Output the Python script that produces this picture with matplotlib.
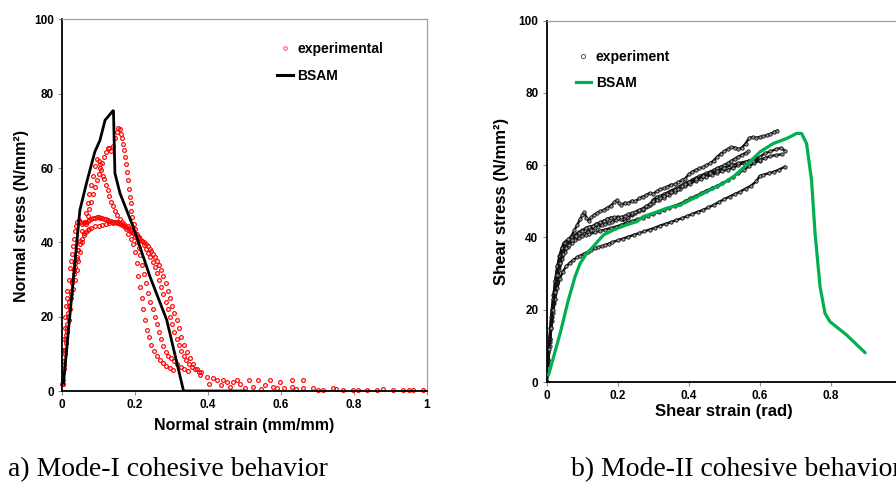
import matplotlib
matplotlib.use("Agg")
import matplotlib.pyplot as plt
from matplotlib.lines import Line2D

plt.rcParams['font.family'] = ['Liberation Sans', 'DejaVu Sans']
plt.rcParams['font.weight'] = 'bold'

# ---------------- Data: Mode-I (left) ----------------
bsam1_x = [0.004, 0.049, 0.068, 0.090, 0.104, 0.118, 0.141, 0.145, 0.159, 0.195, 0.241, 0.287, 0.333, 0.5]
bsam1_y = [2.1, 48.7, 56.3, 64.4, 67.5, 72.9, 75.6, 58.6, 53.2, 44.2, 30.8, 19.1, 0.0, 0.0]

expA_x = [0.001, 0.002, 0.003, 0.004, 0.005, 0.007, 0.009, 0.011, 0.013, 0.015, 0.018, 0.021, 0.024,
          0.027, 0.030, 0.033, 0.036, 0.039, 0.042, 0.046, 0.050, 0.055, 0.060, 0.065, 0.070, 0.075,
          0.080, 0.085, 0.090, 0.095, 0.100, 0.105, 0.110, 0.115, 0.120, 0.125, 0.130, 0.135, 0.140,
          0.145, 0.150, 0.155, 0.160, 0.165, 0.170, 0.175, 0.180, 0.185, 0.190, 0.195, 0.200, 0.205,
          0.210, 0.215, 0.220, 0.225, 0.230, 0.235, 0.240, 0.245, 0.250, 0.255, 0.260, 0.266, 0.272,
          0.278, 0.284, 0.290, 0.296, 0.302, 0.308, 0.314, 0.320, 0.327, 0.334, 0.342, 0.350, 0.360,
          0.370, 0.380]
expA_y = [2, 5, 8, 11, 14, 17, 20, 23, 25, 27, 30, 33, 35, 37, 39, 41, 43, 44.5, 45.5, 46, 45.5, 45,
          45.2, 45.5, 45.8, 46, 46.2, 46.5, 46.7, 46.8, 46.8, 46.7, 46.5, 46.3, 46.2, 46, 45.8, 45.7,
          45.6, 45.5, 45.4, 45.2, 45, 44.8, 44.5, 44.2, 43.8, 43.4, 43, 42.6, 42.2, 41.8, 41.4, 41,
          40.5, 40, 39.5, 39, 38.3, 37.6, 36.8, 36, 35, 33.8, 32.5, 31, 29, 27, 25, 23, 21, 19, 17,
          14.5, 12.5, 10.5, 8.8, 7.2, 6, 5]

expD_x = [0.002, 0.005, 0.008, 0.011, 0.014, 0.017, 0.020, 0.024, 0.028, 0.032, 0.036, 0.040, 0.045,
          0.050, 0.055, 0.060, 0.065, 0.070, 0.075, 0.080, 0.090, 0.100, 0.110, 0.120, 0.130, 0.140,
          0.150, 0.160, 0.170, 0.180, 0.190, 0.195, 0.200, 0.205, 0.210, 0.215, 0.220, 0.225, 0.230,
          0.236, 0.242, 0.248, 0.254, 0.260, 0.266, 0.272, 0.278, 0.284, 0.290, 0.298, 0.306, 0.315,
          0.325, 0.335, 0.345]
expD_y = [3, 7, 11, 15, 18, 21, 24, 27, 30, 32.5, 34.5, 36, 38, 39.5, 41, 42, 42.8, 43.3, 43.6, 44,
          44.3, 44.5, 44.8, 45, 45.2, 45.3, 45.3, 45.2, 45, 44.5, 43.5, 42.5, 41.5, 40, 38.5, 36.5,
          34, 31.5, 29, 26.5, 24, 22, 20, 18, 16, 14, 12, 10.5, 9.5, 8.8, 8, 7.2, 6.5, 6, 5.5]

expB_x = [0.002, 0.004, 0.006, 0.008, 0.011, 0.014, 0.017, 0.020, 0.024, 0.028, 0.032, 0.036, 0.040,
          0.045, 0.050, 0.055, 0.060, 0.065, 0.070, 0.075, 0.080, 0.085, 0.090, 0.095, 0.100, 0.104,
          0.108, 0.112, 0.116, 0.120, 0.125, 0.130, 0.135, 0.140, 0.146, 0.152, 0.158, 0.164, 0.170,
          0.176, 0.182, 0.188, 0.194, 0.200, 0.205, 0.209, 0.213, 0.218, 0.223, 0.227, 0.232, 0.238,
          0.245, 0.252, 0.260, 0.268, 0.276, 0.285, 0.295, 0.305]
expB_y = [2, 5, 8, 11, 14, 17, 20, 23, 26, 29, 31.5, 33.5, 35.5, 38, 40.5, 43, 45.5, 48, 50.5, 53,
          55.5, 58, 60.5, 62.5, 62, 61, 59.5, 58, 57, 55.5, 54, 52.5, 51, 49.8, 48.5, 47.3, 46.3,
          45.5, 44.5, 43.5, 42.3, 41, 39.5, 37.5, 34.5, 31, 28, 25, 22, 19, 16.5, 14.5, 12.5, 10.8,
          9.5, 8.3, 7.5, 6.8, 6.2, 5.7]

expC_x = [0.002, 0.005, 0.008, 0.011, 0.014, 0.018, 0.022, 0.026, 0.030, 0.035, 0.040, 0.045, 0.050,
          0.055, 0.060, 0.065, 0.070, 0.075, 0.080, 0.085, 0.090, 0.095, 0.100, 0.105, 0.110, 0.115,
          0.120, 0.125, 0.130, 0.135, 0.140, 0.145, 0.150, 0.154, 0.158, 0.161, 0.165, 0.168, 0.171,
          0.173, 0.176, 0.179, 0.182, 0.184, 0.186, 0.188, 0.190, 0.192, 0.196, 0.200, 0.206, 0.212,
          0.218, 0.224, 0.230, 0.236, 0.242, 0.248, 0.254, 0.260, 0.266, 0.272, 0.278, 0.284, 0.290,
          0.296, 0.302, 0.308, 0.314, 0.320, 0.326, 0.333, 0.340, 0.348, 0.356, 0.365, 0.375]
expC_y = [2, 6, 10, 13, 16, 19, 22, 25, 27.5, 30, 32.5, 35, 37.5, 40, 42.5, 45, 47, 49, 51, 53, 55,
          56.8, 58.5, 60, 61.5, 63, 64.2, 65.3, 65.5, 64.5, 66, 68, 69.8, 70.7, 70.5, 69.3, 68, 66.6,
          64.8, 63, 61, 59, 56.8, 54.5, 52.3, 50.5, 48.5, 46.8, 45, 43.5, 42.3, 41.2, 40.3, 39.3,
          38.3, 37.2, 36, 34.7, 33.3, 31.8, 30, 28, 26, 24, 22, 20, 18, 16, 14, 12.3, 10.8, 9.5, 8.3,
          7.3, 6.5, 5.8, 5.2]

tail_x = [0.378, 0.396, 0.415, 0.424, 0.442, 0.451, 0.469, 0.479, 0.488, 0.511, 0.524, 0.538, 0.556,
          0.570, 0.579, 0.597, 0.607, 0.629, 0.629, 0.661, 0.661, 0.689, 0.716, 0.743, 0.771, 0.798,
          0.835, 0.862, 0.908, 0.935, 0.963, 0.990, 0.402, 0.435, 0.460, 0.500, 0.545, 0.590, 0.640,
          0.700, 0.750, 0.810, 0.880, 0.950]
tail_y = [4.3, 3.9, 3.4, 3.0, 3.0, 2.5, 2.5, 3.0, 2.0, 3.0, 1.2, 3.0, 1.6, 3.0, 1.2, 2.5, 0.7, 3.0,
          1.0, 3.0, 0.7, 0.7, 0.4, 0.7, 0.3, 0.4, 0.3, 0.4, 0.4, 0.3, 0.4, 0.3, 1.8, 1.5, 1.2, 0.8,
          0.6, 0.9, 0.5, 0.4, 0.6, 0.3, 0.5, 0.2]

# ---------------- Data: Mode-II (right) ----------------
bsam2_x = [0.005, 0.038, 0.061, 0.080, 0.094, 0.113, 0.131, 0.160, 0.188, 0.225, 0.254, 0.272, 0.300,
           0.338, 0.376, 0.413, 0.451, 0.488, 0.526, 0.563, 0.601, 0.638, 0.676, 0.704, 0.718, 0.732,
           0.746, 0.756, 0.770, 0.784, 0.798, 0.845, 0.897]
bsam2_y = [1.9, 13.5, 22.7, 29.2, 32.8, 35.6, 37.5, 40.7, 42.1, 43.5, 44.4, 45.8, 46.7, 48.1, 49.0,
           50.8, 52.7, 54.5, 56.8, 60.1, 63.7, 66.0, 67.4, 68.8, 68.8, 66.0, 55.9, 41.1, 26.4, 19.0,
           16.7, 13.0, 8.1]

e1_x = [0, 0.003, 0.006, 0.010, 0.014, 0.019, 0.024, 0.030, 0.036, 0.042, 0.048, 0.055, 0.062, 0.070,
        0.078, 0.086, 0.094, 0.100, 0.106, 0.112, 0.118, 0.126, 0.134, 0.142, 0.150, 0.160, 0.170,
        0.180, 0.190, 0.197, 0.203, 0.210, 0.220, 0.230, 0.240, 0.250, 0.260, 0.270, 0.280, 0.290,
        0.300, 0.310, 0.320, 0.330, 0.340, 0.350, 0.360, 0.370, 0.380, 0.390, 0.400, 0.410, 0.420,
        0.430, 0.440, 0.450, 0.460, 0.470, 0.480, 0.490, 0.500, 0.510, 0.520, 0.530, 0.540, 0.550,
        0.560, 0.570, 0.580, 0.590, 0.600, 0.610, 0.620, 0.630, 0.640, 0.650]
e1_y = [0, 5, 10, 15, 20, 24, 28, 32, 35, 37, 38.5, 39, 39.5, 40.5, 42, 43.5, 45, 46.2, 47, 45.5,
        44.6, 45.6, 46.3, 46.8, 47.2, 47.6, 48.2, 48.8, 49.7, 50.3, 49.5, 49, 49.6, 49.5, 50.2, 50,
        50.8, 51.3, 51.7, 52.3, 52.1, 52.8, 53.3, 53.6, 54.1, 54.6, 54.7, 55.3, 55.8, 56.3, 57.5,
        58.2, 58.7, 59.1, 59.5, 60, 60.5, 61.3, 62.3, 63.2, 63.8, 64.5, 65, 64.9, 64.4, 64.9, 66,
        67.5, 67.8, 67.6, 67.8, 68, 68.3, 68.6, 69.2, 69.6]

e2_x = [0, 0.004, 0.008, 0.013, 0.018, 0.024, 0.030, 0.037, 0.044, 0.052, 0.060, 0.070, 0.080, 0.090,
        0.100, 0.110, 0.120, 0.130, 0.140, 0.150, 0.160, 0.170, 0.180, 0.190, 0.200, 0.210, 0.220,
        0.230, 0.240, 0.250, 0.260, 0.270, 0.280, 0.290, 0.300, 0.310, 0.320, 0.330, 0.340, 0.350,
        0.360, 0.370, 0.380, 0.390, 0.400, 0.410, 0.420, 0.430, 0.440, 0.450, 0.460, 0.470, 0.480,
        0.490, 0.500, 0.510, 0.520, 0.530, 0.540, 0.550, 0.560, 0.568]
e2_y = [0, 6, 12, 18, 23, 28, 32, 35, 37, 38.5, 39.5, 40, 40.8, 41.5, 42, 42.5, 42.2, 43, 43.8, 44,
        44.5, 45, 45.5, 45.3, 45.8, 45, 44.5, 45.5, 46.2, 46.7, 47.4, 47.7, 48.3, 49, 50.5, 51.2,
        51.5, 52, 52.4, 53, 53.4, 53.9, 54.5, 55, 55.4, 56, 56.5, 57, 57.4, 57.8, 58.2, 58.7, 59.2,
        59.6, 60, 60.6, 61.2, 61.8, 62.4, 62.9, 63.4, 63.8]

e3_x = [0, 0.004, 0.009, 0.014, 0.020, 0.026, 0.033, 0.040, 0.048, 0.056, 0.065, 0.075, 0.085, 0.095,
        0.105, 0.115, 0.125, 0.135, 0.145, 0.155, 0.165, 0.175, 0.185, 0.195, 0.210, 0.225, 0.240,
        0.255, 0.270, 0.285, 0.300, 0.315, 0.330, 0.345, 0.360, 0.375, 0.390, 0.405, 0.420, 0.435,
        0.450, 0.465, 0.480, 0.495, 0.510, 0.525, 0.540, 0.555, 0.570, 0.585, 0.600, 0.615, 0.630,
        0.645, 0.660, 0.671]
e3_y = [0, 5, 11, 17, 22, 27, 31, 34, 36.5, 38, 38.7, 39.2, 39.8, 40.3, 41, 41.6, 42.2, 42.5, 43,
        43.4, 43.8, 44, 44.3, 44.7, 45.2, 45.8, 46.5, 47.2, 48, 48.8, 49.6, 50.4, 51, 51.8, 52.5,
        53.3, 54.2, 54.9, 55.7, 56.2, 56.8, 57.3, 57.9, 58.4, 58.8, 59.3, 60, 60.6, 61.3, 61.8, 62.3,
        63.3, 63.8, 64.4, 64.8, 64]

e4_x = [0, 0.005, 0.010, 0.016, 0.022, 0.029, 0.036, 0.044, 0.052, 0.060, 0.070, 0.080, 0.090, 0.100,
        0.110, 0.120, 0.135, 0.150, 0.165, 0.180, 0.195, 0.210, 0.225, 0.240, 0.255, 0.270, 0.285,
        0.300, 0.315, 0.330, 0.345, 0.360, 0.375, 0.390, 0.405, 0.420, 0.435, 0.450, 0.465, 0.480,
        0.495, 0.510, 0.525, 0.540, 0.555, 0.570, 0.585, 0.600, 0.615, 0.630, 0.645, 0.662]
e4_y = [0, 6, 12, 18, 23, 27.5, 31, 34, 36, 37.5, 38.5, 39.2, 39.8, 40.3, 40.6, 40.9, 41.4, 41.8,
        42.2, 42.6, 43, 43.5, 44, 44.5, 45, 45.5, 46, 46.5, 47, 47.6, 48.2, 48.8, 49.3, 50, 50.8,
        51.5, 52.2, 53, 53.6, 54.3, 55, 55.8, 56.8, 57.8, 58.7, 59.7, 60.6, 61.3, 62, 62.5, 62.8, 63]

e5_x = [0, 0.004, 0.008, 0.013, 0.018, 0.024, 0.030, 0.037, 0.045, 0.055, 0.065, 0.075, 0.085, 0.095,
        0.105, 0.115, 0.125, 0.135, 0.145, 0.155, 0.165, 0.175, 0.185, 0.200, 0.215, 0.230, 0.245,
        0.260, 0.275, 0.290, 0.305, 0.320, 0.335, 0.350, 0.365, 0.380, 0.395, 0.410, 0.425, 0.440,
        0.455, 0.470, 0.485, 0.500, 0.515, 0.530, 0.545, 0.560, 0.575, 0.590, 0.600, 0.610, 0.625,
        0.640, 0.655, 0.671]
e5_y = [0, 5, 10, 15, 19, 23, 26, 28.5, 30.5, 32, 33, 33.8, 34.5, 35, 35.5, 36, 36.5, 37, 37.3,
        37.6, 37.9, 38.3, 38.7, 39.2, 39.7, 40.2, 40.7, 41.2, 41.7, 42.2, 42.7, 43.3, 43.8, 44.3,
        44.8, 45.3, 45.9, 46.5, 47.1, 47.6, 48.3, 49, 49.8, 50.6, 51.3, 52, 52.7, 53.5, 54.3, 55.5,
        57, 57.3, 57.8, 58.2, 58.8, 59.6]

e6_x = [0, 0.003, 0.007, 0.012, 0.017, 0.023, 0.030, 0.037, 0.045, 0.053, 0.062, 0.072, 0.082, 0.092,
        0.100, 0.110, 0.120, 0.130, 0.140, 0.150, 0.160, 0.170, 0.180, 0.190, 0.200, 0.210, 0.220,
        0.230, 0.240, 0.250, 0.260, 0.270, 0.280, 0.290, 0.300, 0.310, 0.320, 0.330, 0.340, 0.350,
        0.360, 0.370, 0.380, 0.390, 0.400, 0.420, 0.440, 0.460, 0.480, 0.500, 0.520, 0.540, 0.560,
        0.580, 0.600]
e6_y = [0, 4, 9, 15, 20, 25, 29.5, 33, 35.5, 37, 38, 39.3, 40.5, 41.2, 41.8, 42.5, 43, 43.2, 43.6,
        44.2, 44.6, 45, 45.4, 45.6, 45.4, 45.6, 46, 46.4, 46.8, 47, 47.5, 48, 48.6, 49.3, 50, 50.5,
        51, 51.6, 52.1, 52.6, 53.1, 53.5, 54.2, 54.8, 55.3, 56.2, 57, 57.8, 58.5, 59.3, 60, 60.6,
        61, 61.2, 61.5]

x_ticks = [0, 0.2, 0.4, 0.6, 0.8, 1.0]
x_ticklabels = ["0", "0.2", "0.4", "0.6", "0.8", "1"]
x2_ticks = [0, 0.2, 0.4, 0.6, 0.8]
x2_ticklabels = ["0", "0.2", "0.4", "0.6", "0.8"]
y_ticks = [0, 20, 40, 60, 80, 100]
y_ticklabels = ["0", "20", "40", "60", "80", "100"]

# ---------------- Figure ----------------
W, H = 896, 490
fig = plt.figure(figsize=(W / 100, H / 100), dpi=100)
ax1 = fig.add_axes([62 / W, 1 - 391 / H, 365 / W, 371.5 / H])
ax2 = fig.add_axes([546.7 / W, 1 - 382 / H, 355 / W, 361.3 / H])

RED = '#ff0000'
GREEN = '#00b050'

def style_axes(ax, xt, xtl):
    ax.set_xlim(0, 1)
    ax.set_ylim(0, 100)
    ax.set_xticks(xt)
    ax.set_xticklabels(xtl)
    ax.set_yticks(y_ticks)
    ax.set_yticklabels(y_ticklabels)
    for s in ['left', 'bottom']:
        ax.spines[s].set_color('black')
        ax.spines[s].set_linewidth(1.3)
    for s in ['top', 'right']:
        ax.spines[s].set_color('#a0a0a0')
        ax.spines[s].set_linewidth(0.9)
    ax.tick_params(direction='out', length=3, width=0.8, color='#909090',
                   labelsize=8.5, pad=3)
    for lab in ax.get_xticklabels() + ax.get_yticklabels():
        lab.set_fontweight('bold')

style_axes(ax1, x_ticks, x_ticklabels)
style_axes(ax2, x2_ticks, x2_ticklabels)

# Left panel
mk = dict(linestyle='none', marker='o', ms=2.7, mfc='none', mec=RED, mew=0.85)
for xs, ys in [(expA_x, expA_y), (expD_x, expD_y), (expB_x, expB_y), (expC_x, expC_y), (tail_x, tail_y)]:
    ax1.plot(xs, ys, clip_on=False, zorder=2, **mk)
ax1.plot(bsam1_x, bsam1_y, color='black', lw=2.0, zorder=3, solid_joinstyle='miter')

h_exp1 = Line2D([], [], linestyle='none', marker='o', ms=2.6, mfc='none', mec='#ff6060', mew=0.8)
h_bsam1 = Line2D([], [], color='black', lw=2.2)
ax1.legend([h_exp1, h_bsam1], ['experimental', 'BSAM'], loc='upper left',
           bbox_to_anchor=(0.575, 0.955), frameon=False, prop={'size': 10, 'weight': 'bold'},
           handlelength=1.1, handletextpad=0.35, labelspacing=0.95, borderaxespad=0)

ax1.set_xlabel('Normal strain (mm/mm)', fontsize=11.5, fontweight='bold')
ax1.set_ylabel('Normal stress (N/mm²)', fontsize=11.5, fontweight='bold')
ax1.xaxis.set_label_coords(0.5, -0.072)
ax1.yaxis.set_label_coords(-0.09, 0.47)

# Right panel
for xs, ys in [(e1_x, e1_y), (e2_x, e2_y), (e3_x, e3_y), (e4_x, e4_y), (e5_x, e5_y), (e6_x, e6_y)]:
    ax2.plot(xs, ys, color='#111111', lw=1.7, marker='o', ms=2.4, mfc='#9a9a9a', mec='#111111',
             mew=0.6, zorder=2)
ax2.plot(bsam2_x, bsam2_y, color=GREEN, lw=2.3, zorder=3, solid_capstyle='round')

h_exp2 = Line2D([], [], linestyle='none', marker='o', ms=3, mfc='white', mec='#555555', mew=0.7)
h_bsam2 = Line2D([], [], color=GREEN, lw=2.3)
ax2.legend([h_exp2, h_bsam2], ['experiment', 'BSAM'], loc='upper left',
           bbox_to_anchor=(0.066, 0.935), frameon=False, prop={'size': 10, 'weight': 'bold'},
           handlelength=1.1, handletextpad=0.35, labelspacing=0.9, borderaxespad=0)

ax2.set_xlabel('Shear strain (rad)', fontsize=12, fontweight='bold')
ax2.set_ylabel('Shear stress (N/mm²)', fontsize=12, fontweight='bold')
ax2.xaxis.set_label_coords(0.5, -0.062)
ax2.yaxis.set_label_coords(-0.107, 0.5)

# Captions
fig.text(8 / W, 1 - 470 / H, 'a) Mode-I cohesive behavior', family=['Liberation Serif', 'DejaVu Serif'],
         fontsize=20, fontweight='normal', va='center', ha='left')
fig.text(571 / W, 1 - 470 / H, 'b) Mode-II cohesive behavior', family=['Liberation Serif', 'DejaVu Serif'],
         fontsize=20, fontweight='normal', va='center', ha='left')

fig.savefig('out.png', dpi=100)
